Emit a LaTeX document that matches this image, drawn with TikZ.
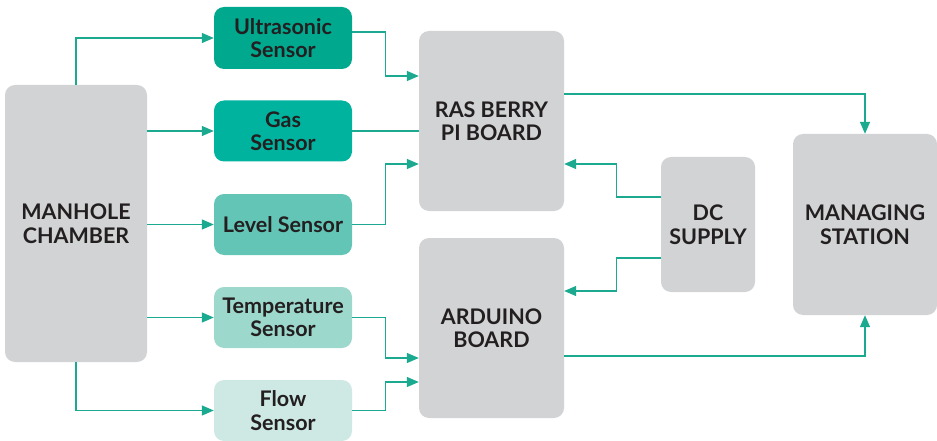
\documentclass[tikz,border=0pt]{standalone}
\usepackage{fontspec}
\setmainfont{Lato}
\usetikzlibrary{arrows.meta,calc}
\definecolor{arrc}{HTML}{1BAA90}
\definecolor{boxgray}{HTML}{D1D3D4}
\definecolor{txt}{HTML}{231F20}
\definecolor{cus}{HTML}{00A88E}
\definecolor{cgas}{HTML}{00B39E}
\definecolor{clvl}{HTML}{63C5B5}
\definecolor{ctmp}{HTML}{9DD8CC}
\definecolor{cflow}{HTML}{CEE9E3}
\tikzset{
  blk/.style={rectangle, rounded corners=10pt, draw=none, align=center, inner sep=0pt,
    text=txt, font=\fontsize{21.5}{23.5}\selectfont\bfseries},
  sens/.style={blk, minimum width=138pt, minimum height=61pt},
  big/.style={blk, fill=boxgray},
  arr/.style={draw=arrc, line width=1.3pt, -{Triangle[length=12pt,width=10pt]}},
  ln/.style={draw=arrc, line width=1.3pt}
}
\begin{document}
\begin{tikzpicture}[x=1pt,y=-1pt]
\useasboundingbox (0,0) rectangle (937,441);
\node[big, minimum width=142pt, minimum height=277pt] (man) at (76,223.5) {MANHOLE\\CHAMBER};
\node[sens, fill=cus, minimum height=62pt] (us) at (283,38) {Ultrasonic\\Sensor};
\node[sens, fill=cgas] (gas) at (283,131) {Gas\\Sensor};
\node[sens, fill=clvl] (lvl) at (283,224.5) {Level Sensor};
\node[sens, fill=ctmp] (tmp) at (283,317.5) {Temperature\\Sensor};
\node[sens, fill=cflow] (flow) at (283,410.5) {Flow\\Sensor};
\node[big, minimum width=145pt, minimum height=180pt] (rpi) at (491.5,121) {RAS BERRY\\PI BOARD};
\node[big, minimum width=145pt, minimum height=180pt] (ard) at (491.5,328) {ARDUINO\\BOARD};
\node[big, minimum width=94pt, minimum height=135pt] (dc) at (708,224.5) {DC\\SUPPLY};
\node[big, minimum width=144pt, minimum height=181pt] (ms) at (865,224.5) {MANAGING\\STATION};
% manhole to sensors
\draw[arr] (man.north) |- (us.west);
\draw[arr] (gas.west -| man.east) -- (gas.west);
\draw[arr] (lvl.west -| man.east) -- (lvl.west);
\draw[arr] (tmp.west -| man.east) -- (tmp.west);
\draw[arr] (man.south) |- (flow.west);
% sensors to boards
\draw[arr] ([yshift=6pt]us.east) -- ++(33,0) |- ([yshift=45pt]rpi.west);
\draw[ln] (gas.east) -- (gas.east -| rpi.west);
\draw[arr] (lvl.east) -- ++(33,0) |- ([yshift=-43pt]rpi.west);
\draw[arr] (tmp.east) -- ++(33,0) |- ([yshift=-30pt]ard.west);
\draw[arr] (flow.east) -- ++(33,0) |- ([yshift=-54pt]ard.west);
% boards to managing station
\draw[arr] ([yshift=27pt]rpi.east) -| (ms.north);
\draw[arr] ([yshift=-28pt]ard.east) -| (ms.south);
% DC supply
\draw[arr] ([yshift=27.5pt]dc.west) -- ++(-44,0) |- ([yshift=-43pt]rpi.east);
\draw[arr] ([yshift=-33.5pt]dc.west) -- ++(-44,0) |- ([yshift=37pt]ard.east);
\end{tikzpicture}
\end{document}
